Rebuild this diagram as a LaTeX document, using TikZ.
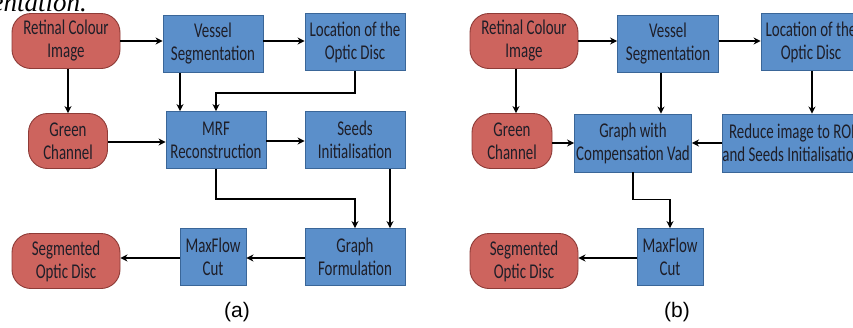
\documentclass[tikz,border=0pt]{standalone}
\usepackage{fontspec}
\setmainfont{Carlito}[FakeStretch=0.71]
\newfontfamily\capfont{Liberation Serif}
\newfontfamily\labfont{Liberation Sans}
\usetikzlibrary{arrows.meta}
\definecolor{termfill}{HTML}{CD645E}
\definecolor{termdraw}{HTML}{8E3B37}
\definecolor{procfill}{HTML}{5B8FCA}
\definecolor{procdraw}{HTML}{3A6698}
\definecolor{txt}{HTML}{1E1E28}
\tikzset{
  term/.style={draw=termdraw, fill=termfill, line width=0.9pt, rounded corners=19pt,
    minimum width=108pt, minimum height=55pt, align=center, inner sep=0pt,
    text=txt, font=\fontsize{21}{23}\selectfont},
  proc/.style={draw=procdraw, fill=procfill, line width=0.9pt,
    minimum width=100pt, minimum height=57pt, align=center, inner sep=0pt,
    text=txt, font=\fontsize{21}{23}\selectfont},
  conn/.style={line width=1.8pt, -{Stealth[length=7pt,width=7pt]}},
}
\begin{document}
\begin{tikzpicture}[x=1pt,y=-1pt]
\useasboundingbox (0,0) rectangle (853,327);
\clip (0,0) rectangle (853,327);
\fill[white] (0,0) rectangle (853,327);
\node[anchor=base east, font=\capfont\itshape\fontsize{27}{30}\selectfont, inner sep=0pt] (cap) at (87,11) {entation.};
% panel (a)
\node[term] (rcia) at (66,41) {Retinal Colour\\Image};
\node[proc] (vsa) at (213,44) {Vessel\\Segmentation};
\node[proc] (loda) at (355,42) {Location of the\\Optic Disc};
\node[term, minimum width=79pt] (gca) at (68,141) {Green\\Channel};
\node[proc] (mrfa) at (216,140) {MRF\\Reconstruction};
\node[proc] (seeda) at (355,140) {Seeds\\Initialisation};
\node[proc] (grapha) at (355,257) {Graph\\Formulation};
\node[proc, minimum width=66pt] (maxa) at (213,257) {MaxFlow\\Cut};
\node[term] (sega) at (66,261) {Segmented\\Optic Disc};
\node[font=\labfont\fontsize{21}{24}\selectfont, inner sep=0pt] (laba) at (237,312) {(a)};
\draw[conn] (rcia.east) -- (rcia.east -| vsa.west);
\draw[conn] (vsa.east |- rcia.east) -- (vsa.east |- rcia.east -| loda.west);
\draw[conn] (gca.north |- rcia.south) -- (gca.north);
\draw[conn] ([xshift=-36pt]mrfa.north |- vsa.south) -- ([xshift=-36pt]mrfa.north);
\draw[conn] (loda.south) -- ++(0,22) -| (mrfa.north);
\draw[conn] ([yshift=-1pt]gca.east) -- ([yshift=-1pt]gca.east -| mrfa.west);
\draw[conn] ([yshift=-1pt]mrfa.east) -- ([yshift=-1pt]mrfa.east -| seeda.west);
\draw[conn] (mrfa.south) -- ++(0,30) -| (grapha.north);
\draw[conn] ([xshift=35pt]seeda.south) -- ([xshift=35pt]seeda.south |- grapha.north);
\draw[conn] ([yshift=-1pt]grapha.west) -- ([yshift=-1pt]grapha.west -| maxa.east);
\draw[conn] ([yshift=-1pt]maxa.west) -- ([yshift=-1pt]maxa.west -| sega.east);
% panel (b)
\node[term] (rcib) at (524,41) {Retinal Colour\\Image};
\node[proc, minimum width=101pt] (vsb) at (668,44) {Vessel\\Segmentation};
\node[proc] (lodb) at (811,42) {Location of the\\Optic Disc};
\node[term, minimum width=80pt] (gcb) at (512,141) {Green\\Channel};
\node[proc, minimum width=117pt, minimum height=58pt] (graphb) at (633,143) {Graph with\\Compensation Vad};
\node[proc, minimum width=140pt, minimum height=58pt] (redb) at (792,143) {Reduce image to ROI\\and Seeds Initialisation};
\node[proc, minimum width=66pt] (maxb) at (670,257) {MaxFlow\\Cut};
\node[term] (segb) at (524,261) {Segmented\\Optic Disc};
\node[font=\labfont\fontsize{21}{24}\selectfont, inner sep=0pt] (labb) at (677,312) {(b)};
\draw[conn] (rcib.east) -- (rcib.east -| vsb.west);
\draw[conn] (vsb.east |- rcib.east) -- (vsb.east |- rcib.east -| lodb.west);
\draw[conn] ([xshift=4pt]gcb.north |- rcib.south) -- ([xshift=4pt]gcb.north);
\draw[conn] ([xshift=-7pt]vsb.south) -- ([xshift=-7pt]vsb.south |- graphb.north);
\draw[conn] ([xshift=1pt]lodb.south) -- ([xshift=1pt]lodb.south |- redb.north);
\draw[conn] (gcb.east |- graphb.west) -- (graphb.west);
\draw[conn] (redb.west) -- (graphb.east);
\draw[conn] (graphb.south) -- ++(0,27) -| (maxb.north);
\draw[conn] ([yshift=-1pt]maxb.west) -- ([yshift=-1pt]maxb.west -| segb.east);
\end{tikzpicture}
\end{document}
